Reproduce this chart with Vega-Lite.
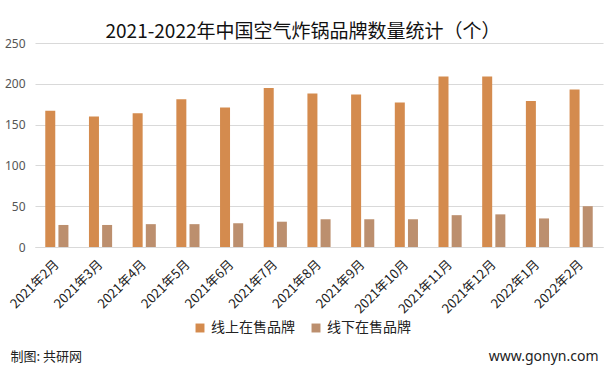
{
  "$schema": "https://vega.github.io/schema/vega-lite/v6.json",
  "autosize": "none",
  "width": 568,
  "height": 204,
  "padding": {"left": 35, "top": 43, "right": 10, "bottom": 123},
  "background": "white",
  "title": {
    "text": "2021-2022年中国空气炸锅品牌数量统计（个）",
    "font": "Noto Sans CJK SC",
    "fontSize": 19,
    "fontWeight": "normal",
    "color": "#111111",
    "anchor": "middle",
    "offset": -5,
    "dx": -16
  },
  "data": {
    "values": [
      {"month": "2021年2月", "type": "线上在售品牌", "count": 167},
      {"month": "2021年2月", "type": "线下在售品牌", "count": 27},
      {"month": "2021年3月", "type": "线上在售品牌", "count": 160},
      {"month": "2021年3月", "type": "线下在售品牌", "count": 27},
      {"month": "2021年4月", "type": "线上在售品牌", "count": 164},
      {"month": "2021年4月", "type": "线下在售品牌", "count": 28},
      {"month": "2021年5月", "type": "线上在售品牌", "count": 181},
      {"month": "2021年5月", "type": "线下在售品牌", "count": 28},
      {"month": "2021年6月", "type": "线上在售品牌", "count": 171},
      {"month": "2021年6月", "type": "线下在售品牌", "count": 29},
      {"month": "2021年7月", "type": "线上在售品牌", "count": 195},
      {"month": "2021年7月", "type": "线下在售品牌", "count": 31},
      {"month": "2021年8月", "type": "线上在售品牌", "count": 188},
      {"month": "2021年8月", "type": "线下在售品牌", "count": 34},
      {"month": "2021年9月", "type": "线上在售品牌", "count": 187},
      {"month": "2021年9月", "type": "线下在售品牌", "count": 34},
      {"month": "2021年10月", "type": "线上在售品牌", "count": 177},
      {"month": "2021年10月", "type": "线下在售品牌", "count": 34},
      {"month": "2021年11月", "type": "线上在售品牌", "count": 209},
      {"month": "2021年11月", "type": "线下在售品牌", "count": 39},
      {"month": "2021年12月", "type": "线上在售品牌", "count": 209},
      {"month": "2021年12月", "type": "线下在售品牌", "count": 40},
      {"month": "2022年1月", "type": "线上在售品牌", "count": 179},
      {"month": "2022年1月", "type": "线下在售品牌", "count": 35},
      {"month": "2022年2月", "type": "线上在售品牌", "count": 193},
      {"month": "2022年2月", "type": "线下在售品牌", "count": 50}
    ]
  },
  "mark": {"type": "bar"},
  "encoding": {
    "x": {
      "field": "month",
      "type": "nominal",
      "sort": null,
      "scale": {"paddingInner": 0.47, "paddingOuter": 0.235},
      "axis": {
        "title": "制图: 共研网",
        "titleFont": "Noto Sans CJK SC",
        "titleFontSize": 13,
        "titleFontWeight": "normal",
        "titleColor": "#222222",
        "titleAnchor": "start",
        "titleAlign": "left",
        "titleBaseline": "middle",
        "titleX": -25,
        "titleY": 109,
        "labelAngle": -45,
        "labelAlign": "right",
        "labelBaseline": "middle",
        "labelFont": "Noto Sans CJK SC",
        "labelFontSize": 13,
        "labelColor": "#222222",
        "labelPadding": 15,
        "ticks": false,
        "domainColor": "#d9d9d9",
        "grid": false
      }
    },
    "xOffset": {
      "field": "type",
      "type": "nominal",
      "scale": {"paddingInner": 0.24}
    },
    "y": {
      "field": "count",
      "type": "quantitative",
      "scale": {"domain": [0, 250]},
      "axis": {
        "values": [0, 50, 100, 150, 200, 250],
        "title": "www.gonyn.com",
        "titleAngle": 0,
        "titleFont": "Noto Sans",
        "titleFontSize": 14,
        "titleFontWeight": "normal",
        "titleColor": "#222222",
        "titleAlign": "right",
        "titleBaseline": "middle",
        "titleX": 563,
        "titleY": 313,
        "labelFont": "Noto Sans",
        "labelFontSize": 12,
        "labelColor": "#555555",
        "labelPadding": 10,
        "ticks": false,
        "domain": false,
        "gridColor": "#d9d9d9"
      }
    },
    "color": {
      "field": "type",
      "type": "nominal",
      "scale": {"domain": ["线上在售品牌", "线下在售品牌"], "range": ["#D48B4E", "#BC8F6E"]},
      "legend": {
        "title": null,
        "orient": "none",
        "direction": "horizontal",
        "legendX": 158,
        "legendY": 278,
        "symbolType": "square",
        "symbolSize": 80,
        "symbolStrokeWidth": 0,
        "labelFont": "Noto Sans CJK SC",
        "labelFontSize": 14,
        "labelColor": "#222222",
        "columnPadding": 14
      }
    }
  },
  "config": {
    "view": {"stroke": null}
  }
}
